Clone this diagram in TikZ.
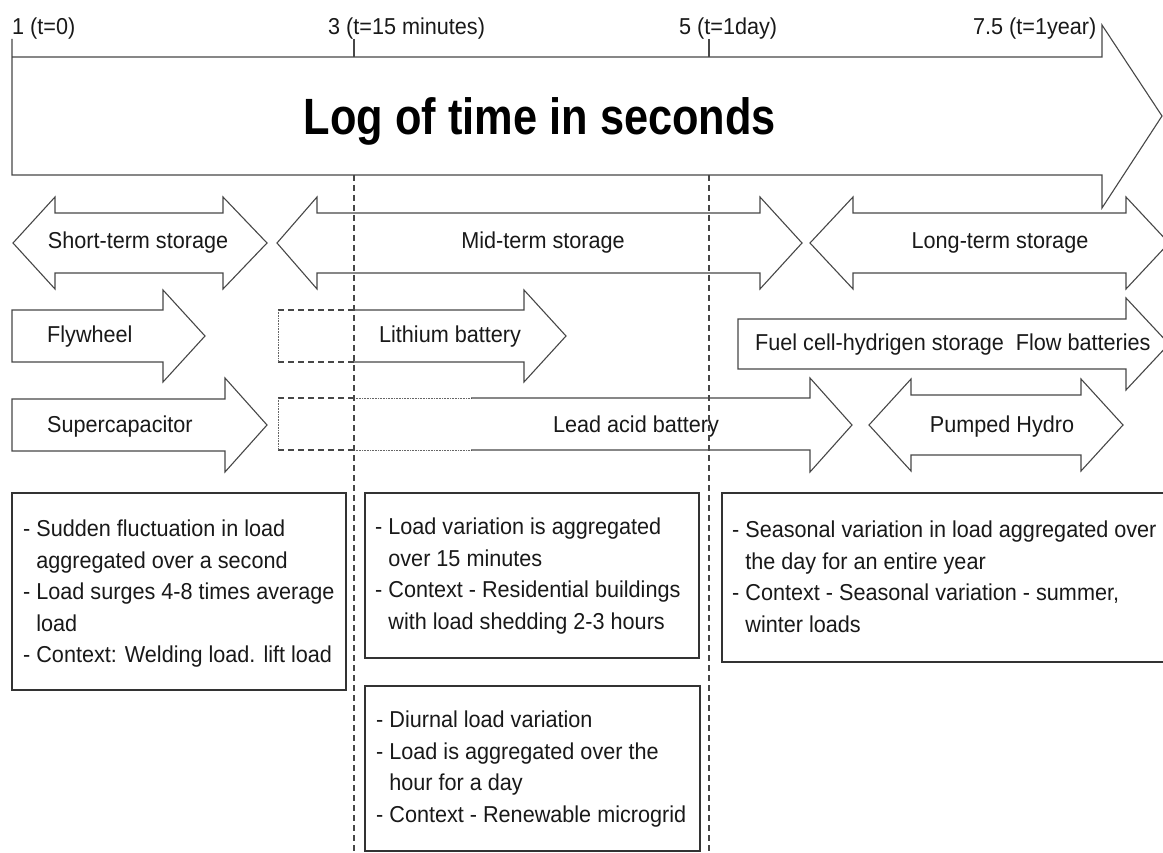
\documentclass[tikz,border=0pt]{standalone}
\usepackage{fontspec}
\setmainfont[FakeStretch=0.94]{Liberation Sans}
\newfontfamily\titlefont[FakeStretch=0.85]{Liberation Sans}
\newcommand{\RArr}[7][shp]{% x0 x1 x2 yc sh hh
  \draw[#1] (#2,#5-#6) -- (#3,#5-#6) -- (#3,#5-#7) -- (#4,#5) -- (#3,#5+#7) -- (#3,#5+#6) -- (#2,#5+#6) -- cycle;}
\newcommand{\DArr}[7]{% x0 x1 x2 x3 yc sh hh
  \draw[shp] (#1,#5) -- (#2,#5-#7) -- (#2,#5-#6) -- (#3,#5-#6) -- (#3,#5-#7) -- (#4,#5) -- (#3,#5+#7) -- (#3,#5+#6) -- (#2,#5+#6) -- (#2,#5+#7) -- cycle;}
\begin{document}
\begin{tikzpicture}[x=1pt,y=-1pt,line join=miter,
  shp/.style={draw=black!72,line width=1.1pt},
  dashln/.style={draw=black!72,line width=1.1pt,dash pattern=on 6pt off 4pt},
  dotln/.style={draw=black!60,line width=0.6pt,densely dotted},
  lbl/.style={font=\fontsize{23}{31.5}\selectfont,inner sep=0pt,anchor=base,text=black!90},
  para/.style={font=\fontsize{23}{31.5}\selectfont,inner sep=0pt,anchor=north west,align=left,text=black!90},
  txtbox/.style={draw=black!80,line width=1.1pt}]
\useasboundingbox (0,0) rectangle (1163,853);
\fill[white] (0,0) rectangle (1163,853);

% main time arrow
\draw[shp] (12,39) -- (12,175) -- (1102,175) -- (1102,208) -- (1162,116) -- (1102,25) -- (1102,57) -- (12,57);
\draw[shp] (354,39) -- (354,57);
\draw[shp] (709,39) -- (709,57);
\node[inner sep=0pt,anchor=base] (title) at (540,135) {\titlefont\bfseries\fontsize{51}{60}\selectfont Log of time in seconds};
\node[lbl,anchor=base west] (t1) at (12,35) {1 (t=0)};
\node[lbl,anchor=base west] (t3) at (328,35) {3 (t=15 minutes)};
\node[lbl,anchor=base west] (t5) at (679,35) {5 (t=1day)};
\node[lbl,anchor=base west] (t7) at (973,35) {7.5 (t=1year)};

% storage double arrows
\DArr{13}{55}{223}{267}{243}{30}{46}
\DArr{277}{317}{760}{802}{243}{30}{46}
\DArr{810}{853}{1126}{1169}{243}{30}{46}
\node[lbl] (short) at (138,249) {Short-term storage};
\node[lbl] (mid) at (543,249) {Mid-term storage};
\node[lbl] (long) at (1000,249) {Long-term storage};

% row 2
\RArr{12}{163}{205}{336}{26}{46}
\node[lbl,anchor=base west] (fly) at (47,343) {Flywheel};
\draw[dashln] (278,310) -- (354,310);
\draw[dashln] (278,362) -- (354,362);
\draw[dotln] (278,310) -- (278,362);
\draw[shp] (354,310) -- (524,310) -- (524,290) -- (566,336) -- (524,382) -- (524,362) -- (354,362);
\node[lbl] (lith) at (450,342) {Lithium battery};
\RArr{738}{1126}{1169}{344}{25}{46}
\node[lbl,anchor=base west] (fuel) at (755,351) {Fuel cell-hydrigen storage\ \ Flow batteries};

% row 3
\RArr{12}{225}{267}{425}{26}{47}
\node[lbl,anchor=base west] (super) at (47,432) {Supercapacitor};
\draw[dashln] (278,398) -- (354,398);
\draw[dashln] (278,450) -- (354,450);
\draw[dotln] (278,398) -- (278,450);
\draw[dotln] (354,398) -- (471,398);
\draw[dotln] (354,450) -- (471,450);
\draw[shp] (471,398) -- (810,398) -- (810,378) -- (852,425) -- (810,472) -- (810,450) -- (471,450);
\node[lbl] (lead) at (636,432) {Lead acid battery};
\DArr{869}{911}{1081}{1123}{425}{30}{46}
\node[lbl] (hydro) at (1002,432) {Pumped Hydro};

% vertical dashed guides
\draw[dashln] (354,175) -- (354,853);
\draw[dashln] (709,175) -- (709,853);

% description boxes
\draw[txtbox] (12,493) rectangle (346,690);
\node[para] (d1) at (23,520) {- Sudden fluctuation in load\\\phantom{- }aggregated over a second\\- Load surges 4-8 times average\\\phantom{- }load\\- Context: Welding load. lift load};
\draw[txtbox] (365,493) rectangle (699,658);
\node[para] (d2) at (375,518) {- Load variation is aggregated\\\phantom{- }over 15 minutes\\- Context - Residential buildings\\\phantom{- }with load shedding 2-3 hours};
\draw[txtbox] (365,686) rectangle (700,851);
\node[para] (d3) at (376,711) {- Diurnal load variation\\- Load is aggregated over the\\\phantom{- }hour for a day\\- Context - Renewable microgrid};
\draw[txtbox] (722,493) rectangle (1175,662);
\node[para] (d4) at (732,521) {- Seasonal variation in load aggregated over\\\phantom{- }the day for an entire year\\- Context - Seasonal variation - summer,\\\phantom{- }winter loads};
\end{tikzpicture}
\end{document}
